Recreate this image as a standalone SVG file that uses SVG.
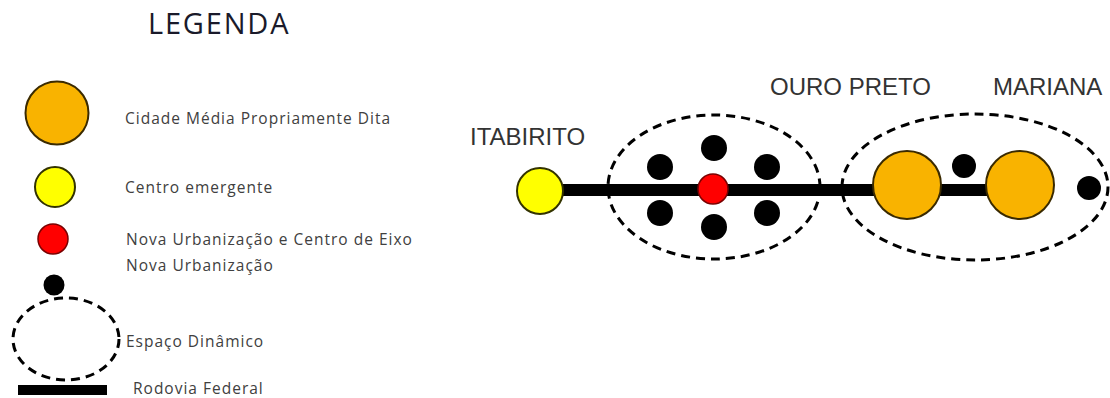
<svg xmlns="http://www.w3.org/2000/svg" width="1110" height="398" viewBox="0 0 1110 398">
<style>
.lg{font-family:"Open Sans","Liberation Sans",sans-serif;font-size:15.5px;letter-spacing:1px;fill:#404040}
.city{font-family:"Liberation Sans",Arial,sans-serif;font-size:24px;fill:#333}
.orange{fill:#F9B300;stroke:#3a2a00;stroke-width:2}
.yellow{fill:#FFFF00;stroke:#333300;stroke-width:2}
.red{fill:#FF0000;stroke:#7a0000;stroke-width:1.5}
.dot{fill:#000}
.dyn{fill:none;stroke:#000;stroke-width:3;stroke-dasharray:9 6}
.road{stroke:#000;stroke-width:12;fill:none}
</style>
<rect width="1110" height="398" fill="#fff"/>
<g id="legend">
<text x="148" y="34" font-family="'Open Sans','Liberation Sans',sans-serif" font-size="29" letter-spacing="1.8" fill="#1a1a2a">LEGENDA</text>
<g id="leg-cidade"><circle cx="57" cy="113" r="31.5" class="orange"/><text x="125" y="124" class="lg">Cidade Média Propriamente Dita</text></g>
<g id="leg-centro"><circle cx="55" cy="187" r="20" class="yellow"/><text x="125" y="193" class="lg">Centro emergente</text></g>
<g id="leg-eixo"><circle cx="53" cy="239" r="15" class="red"/><text x="126" y="245" class="lg">Nova Urbanização e Centro de Eixo</text></g>
<g id="leg-nova"><circle cx="54" cy="285" r="10.5" class="dot"/><text x="126" y="271" class="lg">Nova Urbanização</text></g>
<g id="leg-espaco"><ellipse cx="66" cy="339" rx="53" ry="41" class="dyn" stroke-width="3.5"/><text x="126" y="347" class="lg">Espaço Dinâmico</text></g>
<g id="leg-rodovia"><rect x="18" y="385" width="89" height="10" fill="#000"/><text x="133" y="394" class="lg">Rodovia Federal</text></g>
</g>
<g id="connectors">
<line x1="540" y1="190" x2="1020" y2="190" class="road"/>
</g>
<g id="espaco1"><ellipse cx="714" cy="187" rx="106" ry="72" class="dyn"/></g>
<g id="espaco2"><ellipse cx="975" cy="187" rx="133" ry="73" class="dyn"/></g>
<g id="itabirito"><circle cx="540" cy="191" r="23" class="yellow"/><text x="470" y="145" class="city">ITABIRITO</text></g>
<g id="eixo"><circle cx="713" cy="189" r="15" class="red"/></g>
<g id="nova1"><circle cx="714" cy="148" r="13" class="dot"/></g>
<g id="nova2"><circle cx="660" cy="167" r="13" class="dot"/></g>
<g id="nova3"><circle cx="767" cy="167" r="13" class="dot"/></g>
<g id="nova4"><circle cx="660" cy="213" r="13" class="dot"/></g>
<g id="nova5"><circle cx="767" cy="213" r="13" class="dot"/></g>
<g id="nova6"><circle cx="714" cy="227" r="13" class="dot"/></g>
<g id="ouro-preto"><circle cx="907" cy="185" r="34" class="orange"/><text x="770" y="95" class="city">OURO PRETO</text></g>
<g id="nova7"><circle cx="964" cy="166" r="12" class="dot"/></g>
<g id="mariana"><circle cx="1020" cy="185" r="34" class="orange"/><text x="993" y="95" class="city">MARIANA</text></g>
<g id="nova8"><circle cx="1089" cy="188" r="12" class="dot"/></g>
</svg>
